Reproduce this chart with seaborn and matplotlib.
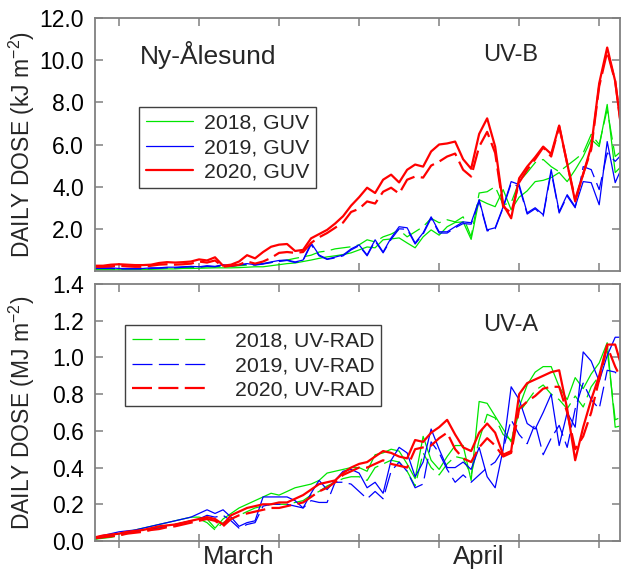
import matplotlib
matplotlib.use("Agg")
import matplotlib.pyplot as plt
import seaborn as sns
import pandas as pd
from matplotlib.ticker import FormatStrFormatter

# ---------------- data (day of year 57 .. 123) ----------------
days = list(range(57, 124))

# UV-B daily dose (kJ m-2): solid = GUV, dashed = UV-RAD
uvb_guv_2018 = [.05, .05, .05, .06, .06, .07, .08, .08, .09, .1,
                .1, .12, .12, .13, .14, .15, .15, .15, .16, .18,
                .2, .2, .25, .3, .35, .38, .45, .52, .6, .67,
                .72, .78, .86, 1.0, 1.14, 1.1, 1.48, 1.52, 1.57, 1.33,
                1.1, 1.62, 1.95, 1.7, 2.1, 2.3, 2.33, 1.5, 3.38, 3.2,
                3.05, 3.86, 2.9, 3.5, 3.8, 4.24, 4.3, 4.43, 4.67, 4.24,
                4.8, 5.43, 6.24, 5.9, 7.9, 4.67, 5.05]
uvb_rad_2018 = [.08, .08, .08, .09, .1, .1, .11, .12, .13, .14,
                .15, .15, .16, .18, .2, .2, .22, .22, .25, .28,
                .3, .35, .4, .48, .52, .6, .67, .75, .9, .95,
                1.05, 1.1, 1.15, 1.24, 1.48, 1.38, 1.62, 1.75, 1.95, 1.62,
                1.86, 2.1, 2.5, 2.29, 2.43, 2.33, 2.57, 1.62, 3.7, 3.76,
                4.0, 3.14, 3.24, 4.24, 4.67, 5.14, 5.29, 4.95, 4.71, 5.0,
                5.29, 5.6, 6.48, 6.0, 7.67, 5.43, 5.76]
uvb_guv_2019 = [.15, .15, .15, .12, .12, .12, .12, .15, .15, .18,
                .18, .2, .22, .2, .25, .22, .3, .25, .3, .35,
                .3, .35, .43, .5, .52, .43, .52, 1.33, .76, .57,
                .66, .76, 1.05, 1.24, .76, 1.48, .9, 1.57, 2.1, 2.05,
                1.33, 1.81, 2.57, 1.86, 1.86, 2.1, 2.33, 2.29, 3.38, 1.95,
                2.05, 3.05, 4.24, 4.1, 2.76, 3.0, 2.67, 4.81, 2.81, 3.62,
                3.05, 4.24, 4.19, 3.14, 6.14, 4.19, 5.05]
uvb_rad_2019 = [.12, .12, .12, .1, .1, .1, .1, .12, .13, .15,
                .15, .18, .2, .18, .22, .2, .28, .22, .28, .32,
                .28, .33, .4, .45, .5, .4, .5, 1.25, .72, .55,
                .62, .72, 1.0, 1.2, .72, 1.42, .86, 1.5, 2.0, 1.98,
                1.28, 1.75, 2.5, 1.8, 1.8, 2.05, 2.25, 2.22, 3.3, 1.9,
                2.0, 3.0, 4.15, 4.0, 2.7, 2.95, 2.6, 4.7, 2.75, 3.55,
                3.0, 4.95, 4.81, 3.86, 5.6, 5.2, 5.6]
uvb_guv_2020 = [.25, .25, .3, .32, .3, .28, .28, .3, .38, .42,
                .4, .42, .45, .55, .5, .65, .25, .3, .45, .75,
                .6, .9, 1.15, 1.25, 1.28, .95, 1.0, 1.55, 1.75, 1.95,
                2.25, 2.6, 3.1, 3.5, 3.95, 3.7, 4.33, 4.57, 4.2, 4.8,
                5.05, 4.95, 5.67, 6.0, 6.05, 6.14, 5.3, 4.85, 6.5, 7.24,
                5.9, 3.15, 2.5, 4.4, 4.95, 5.4, 5.9, 5.55, 6.9, 5.1,
                3.3, 4.6, 5.9, 8.9, 10.6, 9.0, 6.0]
uvb_rad_2020 = [.2, .2, .22, .25, .22, .2, .2, .25, .3, .32,
                .3, .32, .35, .45, .4, .5, .2, .25, .3, .45,
                .35, .45, .62, .86, .9, .86, .9, 1.33, 1.6, 1.8,
                2.05, 2.3, 2.8, 2.95, 3.3, 3.2, 3.76, 3.95, 3.67, 4.33,
                4.48, 4.43, 5.0, 5.19, 5.43, 5.57, 4.8, 4.48, 5.9, 6.6,
                5.6, 3.05, 2.76, 4.2, 4.8, 5.3, 5.86, 5.43, 6.86, 5.1,
                3.4, 4.6, 5.76, 8.76, 10.4, 9.0, 6.1]

# UV-A daily dose (MJ m-2)
uva_guv_2018 = [.01, .02, .03, .04, .05, .06, .07, .08, .09, .1,
                .11, .12, .13, .13, .12, .07, .12, .15, .18, .2,
                .22, .24, .26, .25, .27, .29, .3, .31, .33, .37,
                .38, .39, .4, .4, .38, .47, .48, .5, .49, .42,
                .34, .57, .44, .39, .46, .52, .52, .33, .76, .75,
                .68, .61, .54, .73, .85, .92, .95, .95, .84, .77,
                .89, .83, .91, .97, 1.08, .62, .63]
uva_rad_2018 = [.01, .015, .02, .03, .04, .05, .055, .065, .075, .08,
                .09, .1, .11, .12, .1, .06, .1, .12, .14, .16,
                .18, .19, .2, .2, .2, .21, .22, .25, .27, .3,
                .32, .34, .35, .35, .33, .4, .42, .44, .43, .38,
                .3, .48, .4, .36, .42, .46, .45, .36, .55, .69,
                .67, .58, .55, .7, .76, .82, .85, .8, .77, .72,
                .79, .73, .84, .9, 1.04, .66, .68]
uva_guv_2019 = [.02, .03, .04, .05, .055, .06, .07, .08, .09, .1,
                .11, .12, .13, .15, .17, .15, .17, .13, .08, .1,
                .11, .24, .24, .24, .24, .22, .18, .26, .33, .28,
                .33, .38, .39, .37, .29, .32, .26, .44, .51, .48,
                .35, .43, .61, .5, .4, .4, .43, .39, .51, .35,
                .29, .5, .84, .77, .64, .61, .7, .8, .52, .7,
                .62, 1.03, .98, .87, 1.01, 1.11, 1.11]
uva_rad_2019 = [.015, .02, .03, .04, .045, .05, .06, .065, .07, .08,
                .09, .1, .11, .12, .14, .13, .14, .11, .07, .09,
                .1, .19, .2, .2, .2, .19, .18, .22, .21, .21,
                .32, .32, .31, .27, .23, .27, .23, .38, .43, .38,
                .29, .31, .54, .48, .39, .32, .36, .32, .36, .4,
                .43, .5, .66, .58, .53, .64, .47, .56, .63, .51,
                .72, .86, .77, .72, .93, .92, .86]
uva_guv_2020 = [.02, .03, .035, .04, .05, .055, .06, .07, .08, .085,
                .09, .1, .11, .12, .13, .12, .09, .14, .16, .18,
                .19, .2, .2, .21, .21, .23, .25, .28, .31, .32,
                .33, .37, .4, .42, .43, .46, .49, .48, .46, .45,
                .55, .54, .59, .62, .66, .58, .51, .49, .59, .64,
                .59, .47, .49, .8, .86, .88, .9, .92, .93, .72,
                .44, .62, .77, .9, 1.07, 1.07, .92]
uva_rad_2020 = [.015, .02, .025, .03, .04, .045, .05, .06, .065, .075,
                .08, .09, .1, .11, .12, .11, .08, .12, .14, .15,
                .16, .17, .18, .18, .19, .2, .21, .24, .27, .29,
                .32, .36, .38, .4, .4, .42, .44, .42, .41, .4,
                .5, .51, .52, .56, .59, .5, .45, .43, .51, .56,
                .52, .46, .48, .72, .76, .79, .83, .84, .84, .7,
                .5, .57, .7, .88, 1.06, .95, .86]

uvb_ticks = [2, 4, 6, 8, 10, 12]
uva_ticks = [0.0, 0.2, 0.4, 0.6, 0.8, 1.0, 1.2, 1.4]
month_pos = [75, 105]
month_labels = ["March", "April"]

# ---------------- style ----------------
sns.set_style("ticks")
plt.rcParams["font.family"] = ["Liberation Sans", "DejaVu Sans"]
plt.rcParams["mathtext.fontset"] = "custom"
plt.rcParams["mathtext.rm"] = "Liberation Sans"
plt.rcParams["mathtext.it"] = "Liberation Sans:italic"
plt.rcParams["mathtext.bf"] = "Liberation Sans:bold"

GREEN, BLUE, RED = "#00e600", "#0000ff", "#ff0000"
SPINE = "#808080"
THIN, THICK = 0.9, 1.6

def dash(lw):
    return (0, (14.4 / lw, 4.6 / lw))

fig = plt.figure(figsize=(6.22, 5.74), dpi=100)
ax1 = fig.add_axes([95 / 622, 1 - 271 / 574, 525 / 622, 253 / 574])
ax2 = fig.add_axes([95 / 622, 1 - 541 / 574, 525 / 622, 257 / 574])

top_series = [
    (uvb_rad_2018, GREEN, THIN, True, None),
    (uvb_guv_2018, GREEN, THIN, False, "2018, GUV"),
    (uvb_rad_2019, BLUE, THIN, True, None),
    (uvb_guv_2019, BLUE, THIN, False, "2019, GUV"),
    (uvb_rad_2020, RED, THICK, True, None),
    (uvb_guv_2020, RED, THICK, False, "2020, GUV"),
]
bot_series = [
    (uva_guv_2018, GREEN, THIN, False, None),
    (uva_rad_2018, GREEN, THIN, True, "2018, UV-RAD"),
    (uva_guv_2019, BLUE, THIN, False, None),
    (uva_rad_2019, BLUE, THIN, True, "2019, UV-RAD"),
    (uva_guv_2020, RED, THICK, False, None),
    (uva_rad_2020, RED, THICK, True, "2020, UV-RAD"),
]

def draw(ax, series):
    handles = []
    for vals, c, lw, dashed, lab in series:
        df = pd.DataFrame({"day": days, "dose": vals})
        sns.lineplot(data=df, x="day", y="dose", ax=ax, color=c, lw=lw,
                     linestyle=dash(lw) if dashed else "-", legend=False,
                     sort=False)
        line = ax.get_lines()[-1]
        if lab:
            line.set_label(lab)
            handles.append(line)
    return handles

h1 = draw(ax1, top_series)
h2 = draw(ax2, bot_series)

for ax in (ax1, ax2):
    ax.set_xlim(57, 122.6)
    ax.set_xticks(range(60, 121, 10))
    ax.set_xlabel("")
    for s in ax.spines.values():
        s.set_visible(True)
        s.set_color(SPINE)
        s.set_linewidth(1.3)
    ax.tick_params(axis="both", which="major", direction="in", length=6,
                   width=1.1, color=SPINE, top=True, right=True,
                   labelsize=16.5, labelcolor="black", pad=8)
    ax.tick_params(axis="x", labelbottom=False)
    ax.yaxis.set_major_formatter(FormatStrFormatter("%.1f"))

ax1.set_ylim(0, 12)
ax1.set_yticks(uvb_ticks)
ax2.set_ylim(0, 1.4)
ax2.set_yticks(uva_ticks)

# bottom x axis: ticks crossing the frame at the bottom, inward at the top
ax2.tick_params(axis="x", which="major", direction="inout", length=10, top=False)
ax2t = ax2.twiny()
ax2t.set_xlim(ax2.get_xlim())
ax2t.set_xticks(range(60, 121, 10))
ax2t.tick_params(axis="x", direction="in", length=6, width=1.1, color=SPINE,
                 labeltop=False)
for s in ax2t.spines.values():
    s.set_visible(False)
ax2.set_xticks(month_pos, labels=month_labels, minor=True)
ax2.tick_params(axis="x", which="minor", length=0, labelsize=18.5, pad=3,
                labelbottom=True)

ax1.set_ylabel(r"DAILY DOSE (kJ m$^{-2}$)", fontsize=16.5)
ax2.set_ylabel(r"DAILY DOSE (MJ m$^{-2}$)", fontsize=16.5)
ax1.yaxis.set_label_coords(-0.11, 0.5)
ax2.yaxis.set_label_coords(-0.11, 0.5)

ax1.text(0.0857, 0.854, "Ny-Ålesund", transform=ax1.transAxes, fontsize=19,
         va="center", ha="left")
ax1.text(0.739, 0.854, "UV-B", transform=ax1.transAxes, fontsize=17,
         va="center", ha="left")
ax2.text(0.739, 0.84, "UV-A", transform=ax2.transAxes, fontsize=17,
         va="center", ha="left")

leg_kw = dict(frameon=True, fancybox=False, framealpha=1, edgecolor="#404040",
              fontsize=15.3, borderaxespad=0, loc="upper left")
lg1 = ax1.legend(handles=h1, bbox_to_anchor=(0.0838, 0.648), handlelength=2.2,
                 handletextpad=0.55, borderpad=0.32, labelspacing=0.25, **leg_kw)
lg1.get_frame().set_linewidth(1.0)
lg2 = ax2.legend(handles=h2, bbox_to_anchor=(0.0571, 0.8405), handlelength=3.5,
                 handletextpad=1.35, borderpad=0.32, labelspacing=0.25, **leg_kw)
lg2.get_frame().set_linewidth(1.0)

fig.savefig("out.png", dpi=100, facecolor="white")
